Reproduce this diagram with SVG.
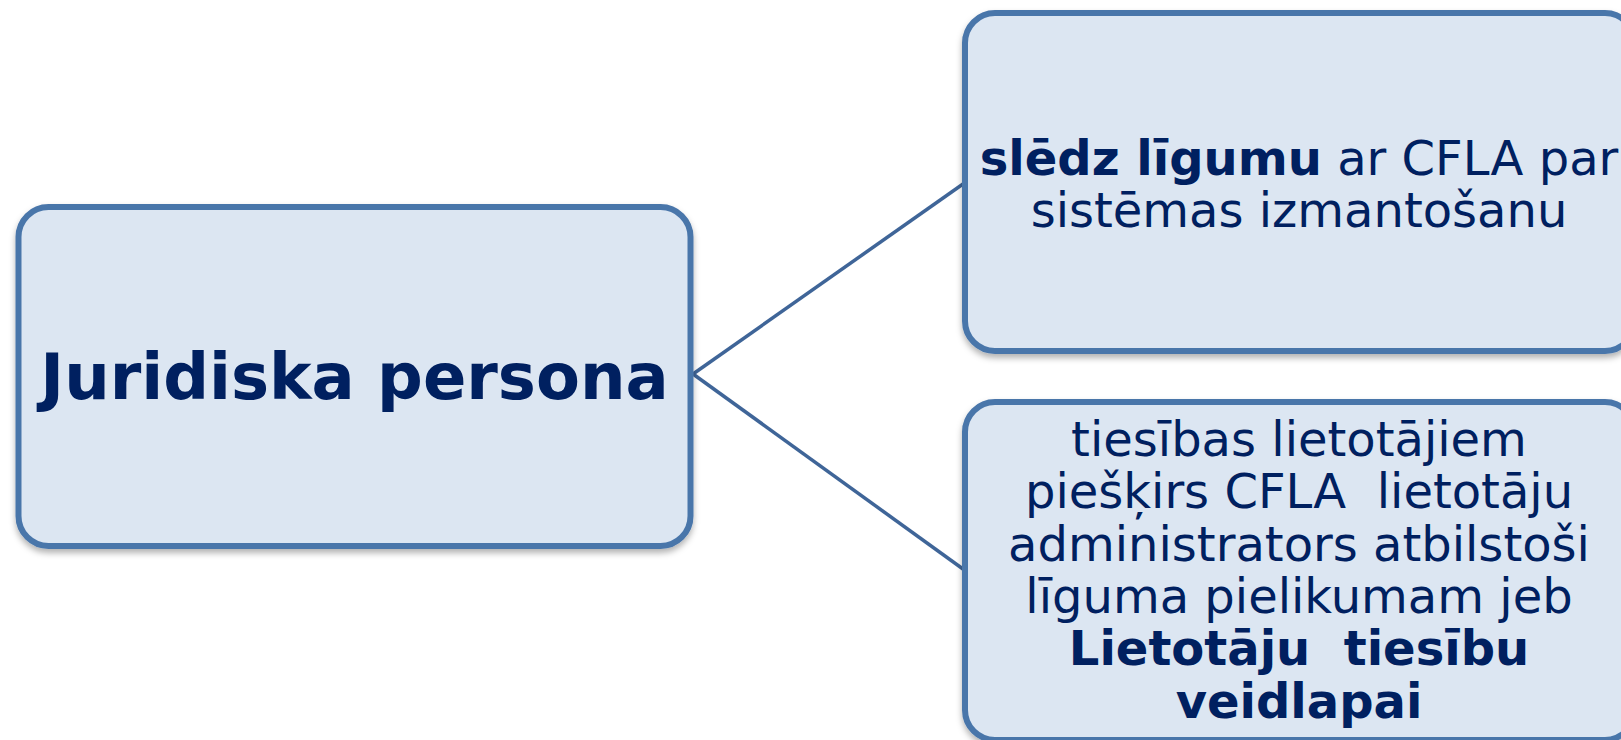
<svg xmlns="http://www.w3.org/2000/svg" width="1621" height="740" viewBox="0 0 1621 740">
<style>
.box{fill:#dce6f2;stroke:#4a76aa;stroke-width:6;filter:url(#sh)}
.conn{stroke:#3f6598;stroke-width:3.5;fill:none}
.t{font-family:"DejaVu Sans",Verdana,sans-serif;fill:#002060;text-anchor:middle}
.r{font-size:48px}
.b{font-weight:bold}
</style>
<defs>
<filter id="sh" x="-5%" y="-5%" width="110%" height="115%">
<feDropShadow dx="0" dy="4" stdDeviation="3" flood-color="#000" flood-opacity="0.3"/>
</filter>
</defs>
<rect width="1621" height="740" fill="#ffffff"/>
<g id="connectors">
<line class="conn" x1="693" y1="374" x2="963" y2="184"/>
<line class="conn" x1="693" y1="374" x2="963" y2="569"/>
</g>
<g id="node-juridiska">
<rect class="box" x="18.5" y="207" width="672" height="339" rx="30"/>
<text class="t b" x="354.5" y="399" font-size="64">Juridiska persona</text>
</g>
<g id="node-ligums">
<rect class="box" x="965" y="13" width="670" height="338" rx="30"/>
<text class="t r" x="1299" y="175"><tspan class="b">slēdz līgumu</tspan> ar CFLA par</text>
<text class="t r" x="1299" y="227">sistēmas izmantošanu</text>
</g>
<g id="node-tiesibas">
<rect class="box" x="965" y="402" width="670" height="338" rx="30"/>
<text class="t r" x="1299" y="456">tiesības lietotājiem</text>
<text class="t r" x="1299" y="508" xml:space="preserve">piešķirs CFLA  lietotāju</text>
<text class="t r" x="1299" y="561">administrators atbilstoši</text>
<text class="t r" x="1299" y="613">līguma pielikumam jeb</text>
<text class="t r b" x="1299" y="665" xml:space="preserve">Lietotāju  tiesību</text>
<text class="t r b" x="1299" y="718">veidlapai</text>
</g>
</svg>
